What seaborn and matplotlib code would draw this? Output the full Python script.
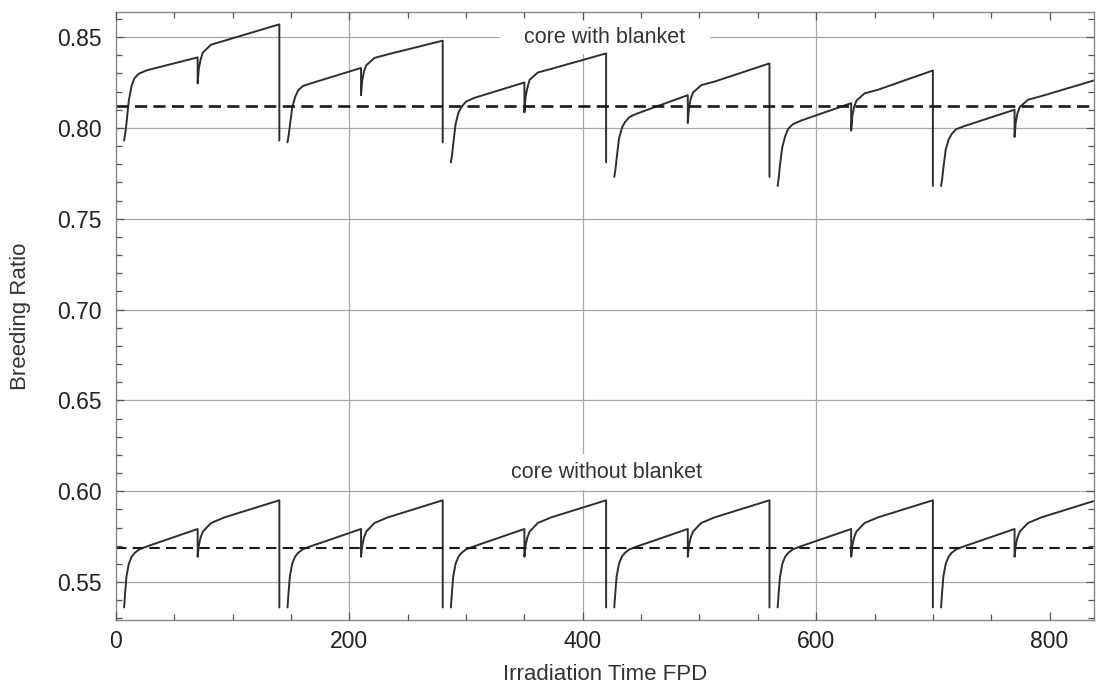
import pandas as pd
import matplotlib
matplotlib.use("Agg")
import matplotlib.pyplot as plt
from matplotlib.path import Path
from matplotlib.ticker import MultipleLocator, FormatStrFormatter
import seaborn as sns

# start day of each fuel cycle and the day offsets inside a cycle where the curve was read
cycle_start = [7, 147, 287, 427, 567, 707]
day_offset = [0, 1, 2, 4, 6.5, 9, 13, 20, 63, 63, 64, 65.5, 67.5, 74.5, 86, 133]

# breeding ratio, core with blanket (one row per cycle)
br_blanket = [
    [0.793, 0.797, 0.8025, 0.815, 0.8235, 0.8275, 0.830, 0.8318, 0.8388, 0.8245, 0.8325, 0.8375, 0.8415, 0.8458, 0.848, 0.857],
    [0.792, 0.796, 0.801, 0.811, 0.817, 0.8205, 0.823, 0.8245, 0.833, 0.818, 0.826, 0.831, 0.8345, 0.8385, 0.8405, 0.848],
    [0.781, 0.785, 0.791, 0.802, 0.8085, 0.8115, 0.8145, 0.8165, 0.825, 0.8085, 0.817, 0.822, 0.8265, 0.8305, 0.8325, 0.841],
    [0.773, 0.777, 0.783, 0.794, 0.800, 0.803, 0.806, 0.808, 0.818, 0.8027, 0.811, 0.816, 0.8195, 0.8235, 0.8255, 0.8355],
    [0.768, 0.773, 0.7795, 0.7895, 0.7955, 0.7995, 0.802, 0.804, 0.8136, 0.7985, 0.8065, 0.8115, 0.815, 0.819, 0.821, 0.8316],
    [0.768, 0.772, 0.778, 0.788, 0.7935, 0.7965, 0.7993, 0.801, 0.810, 0.795, 0.803, 0.808, 0.8115, 0.8155, 0.8175, 0.8265],
]

# breeding ratio, core without blanket (every cycle reads the same)
br_no_blanket = [0.536, 0.545, 0.553, 0.560, 0.564, 0.566, 0.568, 0.5697, 0.5792, 0.5639, 0.570, 0.5745, 0.5778, 0.5825, 0.5856, 0.5950]

avg_blanket = 0.812
avg_no_blanket = 0.569

grid_days = [200, 400, 600]
grid_br = [0.55, 0.60, 0.65, 0.70, 0.75, 0.80, 0.85]

# build long table, one segment per cycle, each ending with the drop at reload
rows = []
for i, start in enumerate(cycle_start):
    for case, vals in [("with", br_blanket[i]), ("without", br_no_blanket)]:
        seg = f"{case}_{i}"
        for off, v in zip(day_offset, vals):
            rows.append((start + off, v, seg))
        rows.append((start + day_offset[-1], vals[0], seg))
df = pd.DataFrame(rows, columns=["day", "br", "seg"])


def wide_box(x0, y0, width, height, mutation_size):
    # white label box, wider than tall, that breaks the grid lines
    px = 1.15 * mutation_size
    py = 0.3 * mutation_size
    return Path([(x0 - px, y0 - py), (x0 + width + px, y0 - py),
                 (x0 + width + px, y0 + height + py), (x0 - px, y0 + height + py),
                 (x0 - px, y0 - py)], closed=True)


sns.set_style("ticks")
plt.rcParams["font.family"] = ["Liberation Sans", "DejaVu Sans"]

fig = plt.figure(figsize=(10.96, 6.85), dpi=100)
ax = fig.add_axes([0.1058, 0.0949, 0.8923, 0.8876])
ax.set_axisbelow(False)

for g in grid_days:
    ax.axvline(g, color="#a8a8a8", lw=0.9, zorder=0.5)
for g in grid_br:
    ax.axhline(g, color="#a8a8a8", lw=0.9, zorder=0.5)

sns.lineplot(data=df, x="day", y="br", units="seg", estimator=None, sort=False,
             color="#2e2e2e", lw=1.4, ax=ax, zorder=2)

ax.axhline(avg_blanket, color="#1a1a1a", lw=1.9, ls=(0, (4.6, 2.4)), zorder=2.2)
ax.axhline(avg_no_blanket, color="#1a1a1a", lw=1.5, ls=(0, (5.0, 3.0)), zorder=2.2)

ax.text(419, 0.85, "core with blanket", ha="center", va="center", fontsize=15.5,
        color="#333333", zorder=1,
        bbox=dict(boxstyle=wide_box, fc="white", ec="none"))
ax.text(420, 0.6105, "core without blanket", ha="center", va="center", fontsize=15.5,
        color="#333333", zorder=1,
        bbox=dict(boxstyle="square,pad=0.35", fc="white", ec="none"))

ax.set_xlim(0, 838)
ax.set_ylim(0.5291, 0.8638)
ax.xaxis.set_major_locator(MultipleLocator(200))
ax.xaxis.set_minor_locator(MultipleLocator(50))
ax.yaxis.set_major_locator(MultipleLocator(0.05))
ax.yaxis.set_minor_locator(MultipleLocator(0.01))
ax.yaxis.set_major_formatter(FormatStrFormatter("%.2f"))

ax.tick_params(which="both", direction="in", top=True, right=True, color="#555555", width=0.9)
ax.tick_params(which="major", length=6, labelsize=16.5, labelcolor="#222222")
ax.tick_params(which="minor", length=4)
ax.tick_params(axis="y", pad=10)
ax.tick_params(axis="x", pad=7)

for s in ax.spines.values():
    s.set_color("#888888")
    s.set_linewidth(1.0)

ax.set_xlabel("Irradiation Time FPD", fontsize=16, color="#333333")
ax.set_ylabel("Breeding Ratio", fontsize=16, color="#333333")
ax.xaxis.set_label_coords(0.5, -0.072)
ax.yaxis.set_label_coords(-0.087, 0.5)

fig.savefig("out.png", dpi=100)
